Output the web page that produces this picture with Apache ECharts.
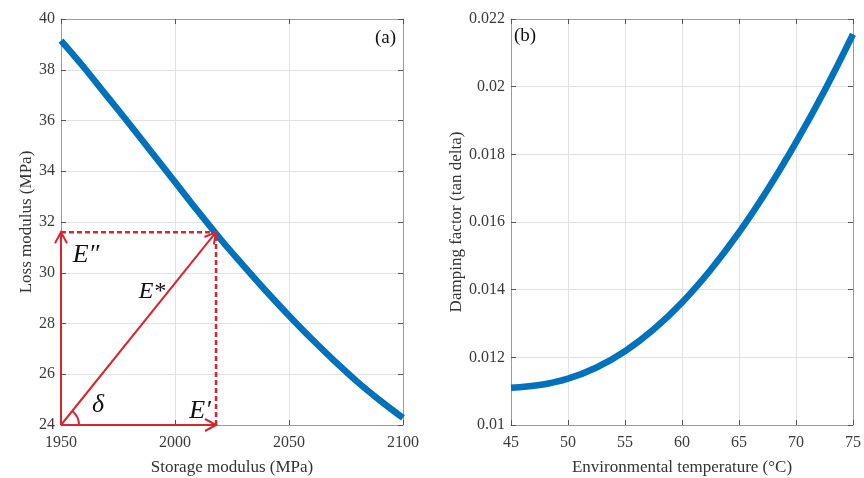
<!DOCTYPE html>
<html><head><meta charset="utf-8">
<script src="https://cdn.jsdelivr.net/npm/echarts@6/dist/echarts.min.js"></script>
<style>html,body{margin:0;padding:0;background:#fff}#c{width:864px;height:478px}</style>
</head><body><div id="c"></div>
<script>
// Panel (a): Loss modulus vs storage modulus
const storageModulus = [1950,1960,1970,1980,1990,2000,2010,2020,2030,2040,2050,2060,2070,2080,2090,2100];
const lossModulus    = [39.15,38.10,36.98,35.86,34.72,33.58,32.43,31.32,30.28,29.27,28.31,27.39,26.52,25.70,24.96,24.28];
// Panel (b): Damping factor vs temperature
const temperature   = [45,47.5,50,52.5,55,57.5,60,62.5,65,67.5,70,72.5,75];
const dampingFactor = [0.01110,0.01118,0.01137,0.01170,0.01218,0.01282,0.01362,0.01458,0.01569,0.01695,0.01835,0.01988,0.02155];
// Vector diagram in panel (a): origin and tip of E*
const vecOrigin = [1950, 24];
const vecTip = [2018, 31.6];
const vecLabels = ['E\u2033', 'E*', '\u03B4', 'E\u2032'];

const FONT = '"Liberation Serif", "Times New Roman", serif';
const RED = '#d6262f';
const BLUE = '#0072BD';

function axisBase(extra, margin) {
  return Object.assign({
    type: 'value',
    axisLine: {show: true, lineStyle: {color: '#9a9a9a', width: 1}},
    axisTick: {show: true, inside: true, length: 5, lineStyle: {color: '#555'}},
    axisLabel: {fontFamily: FONT, fontSize: 16, color: '#3a3a3a', margin: margin || 8,
                formatter: v => String(+v.toFixed(3))},
    splitLine: {show: true, lineStyle: {color: '#e2e2e2', width: 1}},
    nameTextStyle: {fontFamily: FONT, fontSize: 17, color: '#333'}
  }, extra);
}
function boxAxis(extra) {
  return Object.assign(axisBase({}), {axisLabel: {show: false}, splitLine: {show: false}}, extra);
}

function arrowHead(p, from) {
  const dx = p[0] - from[0], dy = p[1] - from[1];
  const L = Math.sqrt(dx*dx + dy*dy);
  const ux = dx / L, uy = dy / L;
  const len = 11, w = 6;
  const bx = p[0] - ux*len, by = p[1] - uy*len;
  return {type: 'polyline', shape: {points: [[bx - uy*w, by + ux*w], p, [bx + uy*w, by - ux*w]]},
          style: {stroke: RED, lineWidth: 2, fill: null}};
}

function renderVectors(params, api) {
  const o = api.coord(vecOrigin);
  const t = api.coord([api.value(0), api.value(1)]);
  const v = api.coord([vecOrigin[0], api.value(1)]);
  const h = api.coord([api.value(0), vecOrigin[1]]);
  const solid = {stroke: RED, lineWidth: 2};
  const dashed = {stroke: RED, lineWidth: 2.5, lineDash: [5, 3]};
  const ang = Math.atan2(t[1] - o[1], t[0] - o[0]);
  const txt = (s, x, y, size) => ({type: 'text', x: x, y: y,
    style: {text: s, font: 'italic ' + size + 'px ' + FONT, fill: '#111', align: 'center', verticalAlign: 'middle'}});
  return {type: 'group', children: [
    {type: 'line', shape: {x1: v[0], y1: v[1], x2: t[0], y2: t[1]}, style: dashed},
    {type: 'line', shape: {x1: h[0], y1: h[1], x2: t[0], y2: t[1]}, style: dashed},
    {type: 'line', shape: {x1: o[0], y1: o[1], x2: v[0], y2: v[1]}, style: solid},
    {type: 'line', shape: {x1: o[0], y1: o[1], x2: h[0], y2: h[1]}, style: solid},
    {type: 'line', shape: {x1: o[0], y1: o[1], x2: t[0], y2: t[1]}, style: solid},
    arrowHead(v, o), arrowHead(h, o), arrowHead(t, o),
    {type: 'arc', shape: {cx: o[0], cy: o[1], r: 18, startAngle: ang, endAngle: 0, clockwise: true},
     style: {stroke: RED, lineWidth: 2, fill: null}},
    txt(vecLabels[0], v[0] + 25, v[1] + 23, 26),
    txt(vecLabels[1], o[0] + 91, o[1] - 133, 24),
    txt(vecLabels[2], o[0] + 37, o[1] - 20, 26),
    txt(vecLabels[3], h[0] - 16, h[1] - 14, 26)
  ]};
}

const chart = echarts.init(document.getElementById('c'));
chart.setOption({
  backgroundColor: '#fff',
  animation: false,
  grid: [
    {left: 61, top: 19, width: 342, height: 406, containLabel: false, outerBoundsMode: 'none'},
    {left: 511, top: 19, width: 342, height: 406, containLabel: false, outerBoundsMode: 'none'}
  ],
  xAxis: [
    axisBase({gridIndex: 0, min: 1950, max: 2100, interval: 50, position: 'bottom',
      name: 'Storage modulus (MPa)', nameLocation: 'middle', nameGap: 34}, 10),
    boxAxis({gridIndex: 0, min: 1950, max: 2100, interval: 50, position: 'top'}),
    axisBase({gridIndex: 1, min: 45, max: 75, interval: 5, position: 'bottom',
      name: 'Environmental temperature (\u00B0C)', nameLocation: 'middle', nameGap: 34}, 10),
    boxAxis({gridIndex: 1, min: 45, max: 75, interval: 5, position: 'top'})
  ],
  yAxis: [
    axisBase({gridIndex: 0, min: 24, max: 40, interval: 2, position: 'left',
      name: 'Loss modulus (MPa)', nameLocation: 'middle', nameGap: 22, nameRotate: 90}, 6),
    boxAxis({gridIndex: 0, min: 24, max: 40, interval: 2, position: 'right'}),
    axisBase({gridIndex: 1, min: 0.01, max: 0.022, interval: 0.002, position: 'left',
      name: 'Damping factor (tan delta)', nameLocation: 'middle', nameGap: 38, nameRotate: 90}, 6),
    boxAxis({gridIndex: 1, min: 0.01, max: 0.022, interval: 0.002, position: 'right'})
  ],
  graphic: [
    {type: 'text', left: 375, top: 29, style: {text: '(a)', font: '19px ' + FONT, fill: '#111'}},
    {type: 'text', left: 514, top: 27, style: {text: '(b)', font: '19px ' + FONT, fill: '#111'}}
  ],
  series: [
    {type: 'line', xAxisIndex: 0, yAxisIndex: 0, smooth: 0.4, symbol: 'none',
     lineStyle: {color: BLUE, width: 6.5}, data: storageModulus.map((x, i) => [x, lossModulus[i]]), z: 3},
    {type: 'custom', xAxisIndex: 0, yAxisIndex: 0, clip: false, z: 4,
     renderItem: renderVectors, data: [vecTip]},
    {type: 'line', xAxisIndex: 2, yAxisIndex: 2, smooth: 0.4, symbol: 'none',
     lineStyle: {color: BLUE, width: 6.5}, data: temperature.map((x, i) => [x, dampingFactor[i]]), z: 3}
  ]
});
</script></body></html>
